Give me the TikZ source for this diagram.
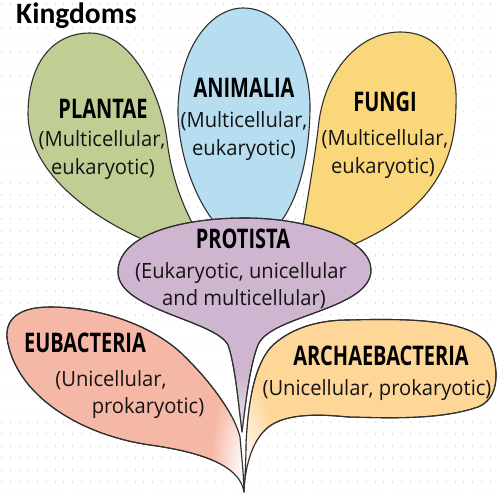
\documentclass[tikz,border=0pt]{standalone}
\usepackage{fontspec}
\setmainfont{Open Sans}
\newfontfamily\headfont[FakeStretch=0.74]{Open Sans}
\newfontfamily\bodyfont[FakeStretch=0.96]{Open Sans}
\newfontfamily\titlefont{Carlito}
\usetikzlibrary{fadings}
\definecolor{plantc}{RGB}{192,206,148}
\definecolor{animc}{RGB}{182,221,240}
\definecolor{fungc}{RGB}{250,215,122}
\definecolor{protc}{RGB}{206,182,208}
\definecolor{eubc}{RGB}{246,184,166}
\definecolor{archc}{RGB}{253,214,152}
\definecolor{edgec}{RGB}{48,48,48}
\definecolor{dotc}{RGB}{222,222,222}
\tikzfading[name=stemfade, inner color=transparent!0, outer color=transparent!100]
\tikzset{
  petal/.style={draw=edgec, line width=1.1pt, line join=round},
  headtxt/.style={anchor=base, inner sep=0pt, font=\headfont\bfseries\fontsize{27}{30}\selectfont, text=black},
  bodytxt/.style={anchor=base, inner sep=0pt, font=\bodyfont\fontsize{21}{25}\selectfont, text=black!92},
}
\def\plantpath{(218,262) .. controls (160,255) and (30,200) .. (28,115) .. controls (28,60) and (55,33) .. (90,33) .. controls (130,33) and (160,90) .. (167,140) .. controls (172,185) and (190,228) .. (218,262) -- cycle}
\def\animpath{(248,250) .. controls (207,232) and (180,170) .. (178,115) .. controls (177,50) and (210,8) .. (243,8) .. controls (285,8) and (311,60) .. (310,110) .. controls (309,170) and (292,230) .. (248,250) -- cycle}
\def\fungpath{(296,265) .. controls (304,220) and (313,170) .. (318,130) .. controls (323,70) and (360,32) .. (400,32) .. controls (440,32) and (458,65) .. (456,105) .. controls (456,190) and (400,235) .. (296,265) -- cycle}
\def\protpath{(242,432) .. controls (238,400) and (235,365) .. (228,345) .. controls (215,320) and (118,310) .. (118,272) .. controls (118,235) and (180,218) .. (245,218) .. controls (310,218) and (371,240) .. (371,270) .. controls (371,310) and (270,315) .. (258,345) .. controls (250,365) and (246,400) .. (242,432) -- cycle}
\def\eubpath{(7,338) .. controls (5,315) and (25,307) .. (50,307) .. controls (100,307) and (150,325) .. (180,352) .. controls (210,380) and (235,415) .. (240,437) .. controls (242,460) and (244,480) .. (244,492) .. controls (240,465) and (200,452) .. (150,445) .. controls (80,435) and (15,395) .. (7,338) -- cycle}
\def\archpath{(246,445) .. controls (248,400) and (255,365) .. (271,347) .. controls (288,330) and (315,320) .. (348,320) .. controls (420,318) and (485,320) .. (493,355) .. controls (500,380) and (495,400) .. (478,407) .. controls (440,420) and (390,418) .. (348,417) .. controls (310,413) and (280,415) .. (265,430) .. controls (250,445) and (245,470) .. (244,492) .. controls (245,475) and (246,460) .. (246,445) -- cycle}
\begin{document}
\begin{tikzpicture}[x=1pt,y=-1pt]
\useasboundingbox (0,0) rectangle (498,493);
\fill[white] (0,0) rectangle (498,493);
% dotted background
\foreach \i in {0,...,55}{
  \foreach \j in {0,...,41}{
    \fill[dotc] (1.2+8.89*\i,3.2+11.95*\j) rectangle ++(1,1.6);
  }
}
% petals
\filldraw[petal, fill=plantc] \plantpath;
\filldraw[petal, fill=animc] \animpath;
\filldraw[petal, fill=fungc] \fungpath;
\filldraw[petal, fill=protc] \protpath;
\filldraw[petal, fill=eubc] \eubpath;
\filldraw[petal, fill=archc] \archpath;
% fade of the stem
\fill[white, path fading=stemfade] (243,468) ellipse [x radius=32, y radius=95];
\draw[petal] \protpath;
\draw[petal] \eubpath;
\draw[petal] \archpath;
% title
\node[anchor=base west, inner sep=0pt, font=\titlefont\bfseries\fontsize{29.5}{33}\selectfont] (title) at (16,23) {Kingdoms};
% labels
\node[headtxt] (plantH) at (103,118) {PLANTAE};
\node[bodytxt] (plantA) at (102,146) {(Multicellular,};
\node[bodytxt] (plantB) at (103,174) {eukaryotic)};
\node[headtxt] (animH) at (244,97) {ANIMALIA};
\node[bodytxt] (animA) at (244,127) {(Multicellular,};
\node[bodytxt] (animB) at (244,155) {eukaryotic)};
\node[headtxt] (fungH) at (385,111) {FUNGI};
\node[bodytxt] (fungA) at (385,145) {(Multicellular,};
\node[bodytxt] (fungB) at (383,173) {eukaryotic)};
\node[headtxt] (protH) at (243,248) {PROTISTA};
\node[bodytxt] (protA) at (241,278) {(Eukaryotic, unicellular};
\node[bodytxt] (protB) at (244,305) {and multicellular)};
\node[headtxt] (eubH) at (85,352) {EUBACTERIA};
\node[bodytxt] (eubA) at (111,386) {(Unicellular,};
\node[bodytxt] (eubB) at (148,413) {prokaryotic)};
\node[headtxt] (archH) at (381,365) {ARCHAEBACTERIA};
\node[bodytxt] (archA) at (377,395) {(Unicellular, prokaryotic)};
\end{tikzpicture}
\end{document}
